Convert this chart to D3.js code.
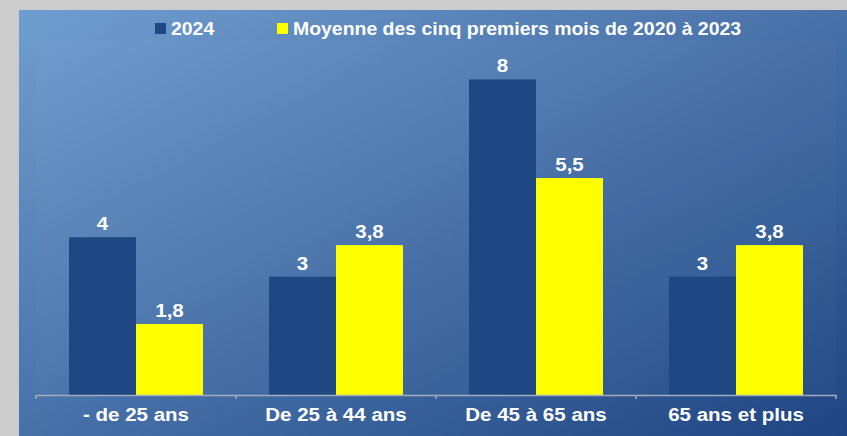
<!DOCTYPE html>
<html><head><meta charset="utf-8">
<script src="https://cdn.jsdelivr.net/npm/d3@7"></script>
<style>html,body{margin:0;padding:0;background:#cccccc;}svg{display:block;}</style>
</head><body>
<script>
const categories = ["- de 25 ans", "De 25 à 44 ans", "De 45 à 65 ans", "65 ans et plus"];
const seriesNames = ["2024", "Moyenne des cinq premiers mois de 2020 à 2023"];
const values2024 = [4, 3, 8, 3];
const valuesAvg = [1.8, 3.8, 5.5, 3.8];
const colors = ["#1f4784", "#ffff00"];

const W = 847, H = 436;
const FONT = "Liberation Sans, Arial, sans-serif";
const SX = 1.11;
const svg = d3.select("body").append("svg").attr("width", W).attr("height", H);
const defs = svg.append("defs");
const g1 = defs.append("linearGradient").attr("id","bg").attr("x1","0").attr("y1","0").attr("x2","1").attr("y2","1");
g1.append("stop").attr("offset","0").attr("stop-color","#709dcf");
g1.append("stop").attr("offset","1").attr("stop-color","#1f4582");

svg.append("rect").attr("width",W).attr("height",H).attr("fill","#cccccc");
svg.append("rect").attr("x",19).attr("y",10).attr("width",W-19).attr("height",H-10).attr("fill","url(#bg)");
svg.append("rect").attr("x",36).attr("y",40).attr("width",800).attr("height",355).attr("fill","#ffffff").attr("opacity",0.02);

const x0 = d3.scaleBand().domain(categories).range([36, 836]).paddingInner(0).paddingOuter(0);
const x1 = d3.scaleBand().domain([0,1]).range([0, x0.bandwidth()]).paddingInner(0).paddingOuter(0.4925);
const y = d3.scaleLinear().domain([0, 9]).range([395, 40]);

const data = categories.map((c,i)=>({cat:c, vals:[values2024[i], valuesAvg[i]]}));

const groups = svg.append("g").selectAll("g").data(data).join("g")
  .attr("transform", d=>`translate(${x0(d.cat)},0)`);
groups.selectAll("rect").data(d=>d.vals.map((v,k)=>({v,k}))).join("rect")
  .attr("x", d=>x1(d.k)).attr("width", x1.bandwidth())
  .attr("y", d=>y(d.v)).attr("height", d=>y(0)-y(d.v))
  .attr("fill", d=>colors[d.k]);
groups.selectAll("text").data(d=>d.vals.map((v,k)=>({v,k}))).join("text")
  .attr("transform", d=>`translate(${x1(d.k)+x1.bandwidth()/2},${y(d.v)-7}) scale(${SX},1)`)
  .attr("text-anchor","middle").attr("fill","#ffffff")
  .attr("font-family",FONT).attr("font-weight","bold").attr("font-size","18.5px")
  .text(d=>String(d.v).replace(".", ","));

// axis
const axis = svg.append("g").attr("transform","translate(0,395)")
  .call(d3.axisBottom(x0).tickSizeInner(0).tickSizeOuter(0).tickPadding(0));
axis.select(".domain").attr("stroke","#a3adbd").attr("stroke-width",1.5);
axis.selectAll(".tick text").attr("fill","#ffffff").attr("font-family",FONT)
  .attr("font-weight","bold").attr("font-size","18.5px").attr("y", 0).attr("dy", 0)
  .attr("transform", `translate(0,26) scale(${SX},1)`);
axis.selectAll(".tick line").remove();
const bounds = [36].concat(categories.map(c=>x0(c)+x0.bandwidth()));
axis.selectAll(".sep").data(bounds).join("line").attr("class","sep")
  .attr("x1",d=>d).attr("x2",d=>d).attr("y1",0).attr("y2",4)
  .attr("stroke","#a3adbd").attr("stroke-width",1.5);

// legend
const legend = svg.append("g");
const legX = [155, 277];
seriesNames.forEach((s,i)=>{
  legend.append("rect").attr("x",legX[i]).attr("y",23).attr("width",11).attr("height",11).attr("fill",colors[i]);
  legend.append("text").attr("transform",`translate(${legX[i]+16},35) scale(1.08,1)`).attr("fill","#ffffff")
    .attr("font-family",FONT).attr("font-weight","bold").attr("font-size","18px").text(s);
});
</script>
</body></html>
